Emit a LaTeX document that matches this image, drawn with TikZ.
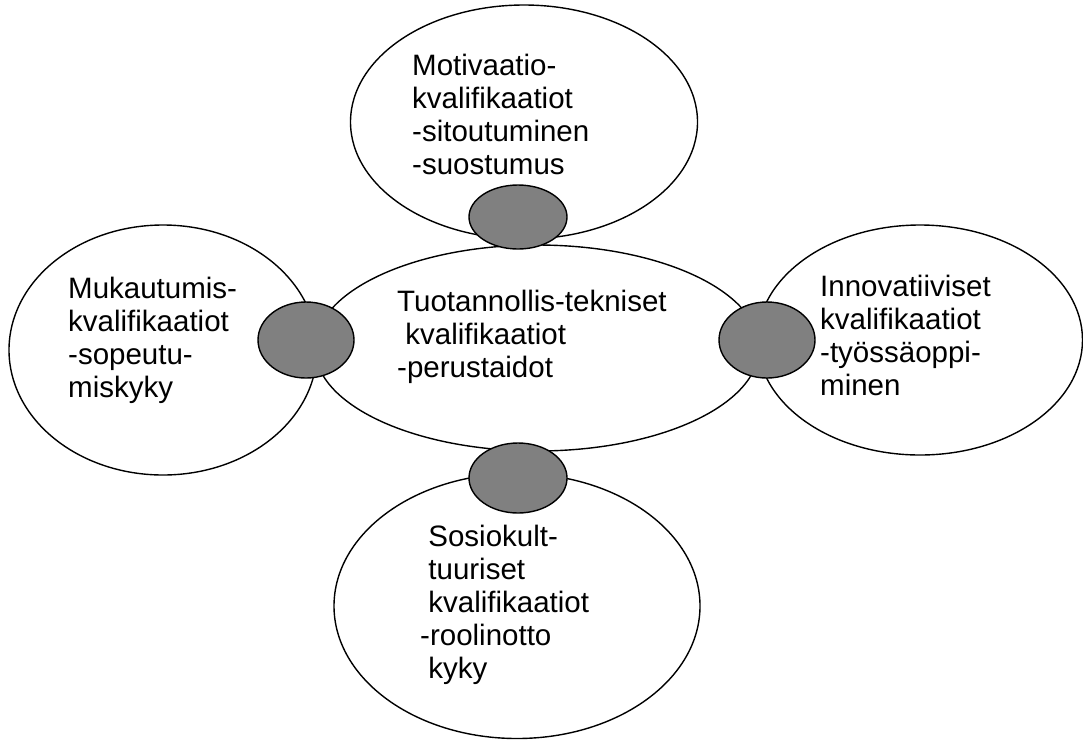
\documentclass[tikz,border=0pt]{standalone}
\usepackage{fontspec}
\setmainfont{Liberation Sans}
\usetikzlibrary{shapes.geometric}

\tikzset{
  kval/.style={ellipse, draw, line width=1.4pt, inner sep=0pt},
  liitos/.style={ellipse, draw, fill=gray, line width=1.4pt, inner sep=0pt},
  teksti/.style={anchor=base west, align=left, inner sep=0pt,
    font=\fontsize{29.5}{33}\selectfont}
}

\begin{document}
\begin{tikzpicture}[x=1pt,y=-1pt]
        \useasboundingbox (0,0) rectangle (1083,740);

        \node[kval, minimum width=444pt, minimum height=206pt] (keski) at (537,348) {};
        \node[kval, minimum width=347pt, minimum height=234pt] (motiv) at (524,122) {};
        \node[kval, minimum width=308pt, minimum height=250pt] (mukaut) at (163,350) {};
        \node[kval, minimum width=325pt, minimum height=230pt] (innov) at (920,340) {};
        \node[kval, minimum width=366pt, minimum height=265pt] (sosio) at (517,606) {};

        \node[liitos, minimum width=98pt, minimum height=64pt] (pmotiv) at (518,217) {};
        \node[liitos, minimum width=96pt, minimum height=76pt] (pmukaut) at (306,340) {};
        \node[liitos, minimum width=96pt, minimum height=76pt] (pinnov) at (767,340) {};
        \node[liitos, minimum width=98pt, minimum height=70pt] (psosio) at (518,478) {};

        % base = viimeisen rivin perusviiva
        \node[teksti] (tkeski) at (397,377) {Tuotannollis-tekniset\\\ kvalifikaatiot\\-perustaidot};
        \node[teksti] (tmotiv) at (412,174) {Motivaatio-\\kvalifikaatiot\\-sitoutuminen\\-suostumus};
        \node[teksti] (tmukaut) at (68,397) {Mukautumis-\\kvalifikaatiot\\-sopeutu-\\miskyky};
        \node[teksti] (tinnov) at (820,395) {Innovatiiviset\\kvalifikaatiot\\-työssäoppi-\\minen};
        \node[teksti] (tsosio) at (420,678) {\ Sosiokult-\\\ tuuriset\\\ kvalifikaatiot\\-roolinotto\\\ kyky};
    \end{tikzpicture}
\end{document}
